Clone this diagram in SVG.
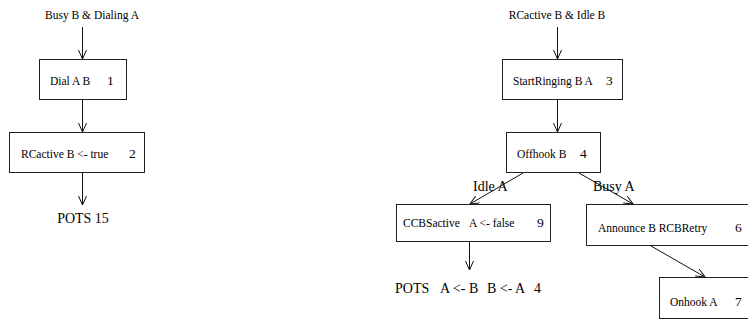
<svg xmlns="http://www.w3.org/2000/svg" width="748" height="320" viewBox="0 0 748 320">
  <style>
    .box { fill: #ffffff; stroke: #222222; stroke-width: 1; }
    .edge { fill: none; stroke: #111111; stroke-width: 1; }
    text { font-family: 'Liberation Serif', 'DejaVu Serif', serif; fill: #000000; }
    .s { font-size: 11.5px; }
    .n { font-size: 13.5px; }
    .l { font-size: 14px; }
  </style>
  <defs>
    <marker id="arrow" markerUnits="userSpaceOnUse" markerWidth="12" markerHeight="10" refX="9" refY="4" orient="auto">
      <path d="M0,0 L9,4 L0,8" fill="none" stroke="#111111" stroke-width="1"/>
    </marker>
  </defs>
  <rect width="748" height="320" fill="#ffffff"/>

  <!-- left chain -->
  <text class="s" x="92" y="19" text-anchor="middle">Busy B &amp; Dialing A</text>
  <g id="n1">
    <rect class="box" x="39.5" y="59.5" width="87" height="40"/>
    <text class="s" x="50" y="85">Dial A B</text>
    <text class="n" x="107" y="85">1</text>
  </g>
  <g id="n2">
    <rect class="box" x="9.5" y="132.5" width="135" height="40"/>
    <text class="s" x="21" y="158">RCactive B &lt;- true</text>
    <text class="n" x="129" y="158">2</text>
  </g>
  <text class="l" x="83" y="223" text-anchor="middle">POTS 15</text>

  <!-- right tree -->
  <text class="s" x="557" y="19" text-anchor="middle">RCactive B &amp; Idle B</text>
  <g id="n3">
    <rect class="box" x="502.5" y="59.5" width="120" height="40"/>
    <text class="s" x="513" y="85">StartRinging B A</text>
    <text class="n" x="606" y="85">3</text>
  </g>
  <g id="n4">
    <rect class="box" x="506.5" y="132.5" width="94" height="40"/>
    <text class="s" x="517" y="158">Offhook B</text>
    <text class="n" x="580" y="158">4</text>
  </g>
  <g id="n9">
    <rect class="box" x="396.5" y="204.5" width="154" height="37"/>
    <text class="s" x="403" y="227">CCBSactive <tspan x="469">A &lt;- false</tspan></text>
    <text class="n" x="537" y="227">9</text>
  </g>
  <g id="n6">
    <rect class="box" x="586.5" y="204.5" width="180" height="41"/>
    <text class="s" x="598" y="232">Announce B RCBRetry</text>
    <text class="n" x="735" y="232">6</text>
  </g>
  <g id="n7">
    <rect class="box" x="659.5" y="277.5" width="110" height="41"/>
    <text class="s" x="670" y="306">Onhook A</text>
    <text class="n" x="735" y="306">7</text>
  </g>
  <text class="l" x="395" y="293">POTS <tspan x="440">A &lt;- B</tspan> <tspan x="487">B &lt;- A</tspan> <tspan x="534">4</tspan></text>

  <g id="connectors">
    <line class="edge" x1="82.5" y1="27" x2="82.5" y2="59" marker-end="url(#arrow)"/>
    <line class="edge" x1="82.5" y1="100" x2="82.5" y2="132" marker-end="url(#arrow)"/>
    <line class="edge" x1="82.5" y1="173" x2="82.5" y2="205" marker-end="url(#arrow)"/>
    <line class="edge" x1="557.5" y1="27" x2="557.5" y2="59" marker-end="url(#arrow)"/>
    <line class="edge" x1="557.5" y1="100" x2="557.5" y2="132" marker-end="url(#arrow)"/>
    <line class="edge" x1="523" y1="173" x2="470" y2="204" marker-end="url(#arrow)"/>
    <line class="edge" x1="579" y1="173" x2="633" y2="204" marker-end="url(#arrow)"/>
    <line class="edge" x1="469.5" y1="242" x2="469.5" y2="270" marker-end="url(#arrow)"/>
    <line class="edge" x1="651" y1="246" x2="705" y2="277" marker-end="url(#arrow)"/>
    <text class="l" x="473" y="191">Idle A</text>
    <text class="l" x="593" y="191">Busy A</text>
  </g>
</svg>
